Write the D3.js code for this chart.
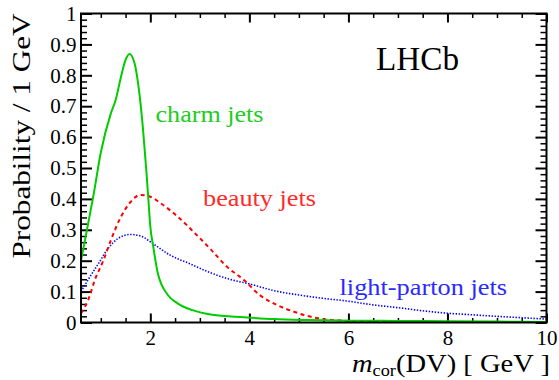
<!DOCTYPE html>
<html><head><meta charset="utf-8">
<script src="https://cdn.jsdelivr.net/npm/d3@7"></script>
<style>body{margin:0;background:#fff}svg{display:block}</style>
</head><body>
<script>
// ---- data ----
const charmX = [0.6, 0.72, 0.85, 1.0, 1.2, 1.3, 1.4, 1.5, 1.58, 1.68, 1.78, 1.85, 1.92, 1.96, 2.0, 2.06, 2.15, 2.35, 2.55, 2.85, 3.25, 3.9, 4.5, 5.2, 6, 7, 8, 9, 10];
const charmY = [0.20, 0.30, 0.41, 0.55, 0.675, 0.72, 0.79, 0.85, 0.869, 0.84, 0.74, 0.63, 0.49, 0.40, 0.31, 0.245, 0.16, 0.09, 0.062, 0.04, 0.025, 0.017, 0.011, 0.008, 0.006, 0.005, 0.004, 0.003, 0.002];
const beautyX = [0.6, 0.75, 0.88, 1.05, 1.2, 1.4, 1.6, 1.8, 2.0, 2.2, 2.55, 2.9, 3.2, 3.55, 3.9, 4.2, 4.55, 4.9, 5.2, 5.55, 5.9, 6.5, 7, 8, 10];
const beautyY = [0.03, 0.075, 0.138, 0.2, 0.265, 0.34, 0.39, 0.413, 0.407, 0.387, 0.343, 0.289, 0.24, 0.18, 0.136, 0.09, 0.057, 0.035, 0.02, 0.01, 0.006, 0.003, 0.002, 0.001, 0.001];
const lightX = [0.6, 0.75, 0.95, 1.15, 1.35, 1.6, 1.8, 2.1, 2.4, 2.8, 3.2, 3.6, 4.0, 4.5, 5.0, 5.5, 6.0, 6.5, 7.0, 7.5, 8.0, 8.5, 9.0, 9.5, 10];
const lightY = [0.10, 0.14, 0.19, 0.24, 0.272, 0.285, 0.28, 0.25, 0.218, 0.19, 0.162, 0.14, 0.125, 0.103, 0.089, 0.078, 0.069, 0.057, 0.048, 0.038, 0.030, 0.025, 0.020, 0.0155, 0.011];
const xMajorTicks = [2, 4, 6, 8, 10];
const xTickLabels = ["2", "4", "6", "8", "10"];
const yMajorTicks = [0, 0.1, 0.2, 0.3, 0.4, 0.5, 0.6, 0.7, 0.8, 0.9, 1];
const yTickLabels = ["0", "0.1", "0.2", "0.3", "0.4", "0.5", "0.6", "0.7", "0.8", "0.9", "1"];
const seriesNames = ["charm jets", "beauty jets", "light-parton jets"];

// ---- layout ----
const FONT = "'Liberation Serif', 'Times New Roman', Times, 'DejaVu Serif', serif";
const W = 559, H = 380;
const L = 81, R = 546.5, T = 13.5, B = 322.5;
const svg = d3.select("body").append("svg").attr("width", W).attr("height", H)
  .style("font-family", FONT);
const x = d3.scaleLinear().domain([0.6, 10]).range([L, R]);
const y = d3.scaleLinear().domain([0, 1]).range([B, T]);

const xMinor = d3.range(1, 10.01, 0.5).filter(v => xMajorTicks.indexOf(v) < 0);
const yMinor = d3.range(0, 50).map(i => +(i * 0.02).toFixed(2)).filter(v => Math.round(v * 100) % 10 !== 0);

function styleAxis(g) {
  g.select(".domain").remove();
  g.attr("font-family", null).style("font-family", FONT);
  g.selectAll("line").attr("stroke", "#000");
}
// minor ticks
svg.append("g").attr("transform", `translate(0,${B})`)
  .call(d3.axisBottom(x).tickValues(xMinor).tickSize(-4.5).tickFormat(""))
  .call(styleAxis).selectAll("line").attr("stroke-width", 1.5);
svg.append("g").attr("transform", `translate(0,${T})`)
  .call(d3.axisTop(x).tickValues(xMinor).tickSize(-4.5).tickFormat(""))
  .call(styleAxis).selectAll("line").attr("stroke-width", 1.5);
svg.append("g").attr("transform", `translate(${L},0)`)
  .call(d3.axisLeft(y).tickValues(yMinor).tickSize(-6).tickFormat(""))
  .call(styleAxis).selectAll("line").attr("stroke-width", 1.5);
svg.append("g").attr("transform", `translate(${R},0)`)
  .call(d3.axisRight(y).tickValues(yMinor).tickSize(-6).tickFormat(""))
  .call(styleAxis).selectAll("line").attr("stroke-width", 1.5);
// major ticks
const gx = svg.append("g").attr("transform", `translate(0,${B})`)
  .call(d3.axisBottom(x).tickValues(xMajorTicks).tickSize(-9).tickPadding(7.3)
    .tickFormat((d, i) => xTickLabels[i]))
  .call(styleAxis);
gx.selectAll("line").attr("stroke-width", 2);
gx.selectAll("text").attr("font-size", 21).attr("fill", "#000").style("font-family", FONT);
svg.append("g").attr("transform", `translate(0,${T})`)
  .call(d3.axisTop(x).tickValues(xMajorTicks).tickSize(-9).tickFormat(""))
  .call(styleAxis).selectAll("line").attr("stroke-width", 2);
const gy = svg.append("g").attr("transform", `translate(${L},0)`)
  .call(d3.axisLeft(y).tickValues(yMajorTicks).tickSize(-11).tickPadding(4.5)
    .tickFormat((d, i) => yTickLabels[i]))
  .call(styleAxis);
gy.selectAll("line").attr("stroke-width", 2);
gy.selectAll("text").attr("font-size", 21).attr("fill", "#000").style("font-family", FONT);
svg.append("g").attr("transform", `translate(${R},0)`)
  .call(d3.axisRight(y).tickValues(yMajorTicks).tickSize(-11).tickFormat(""))
  .call(styleAxis).selectAll("line").attr("stroke-width", 2);

// curves
svg.append("clipPath").attr("id", "clip").append("rect")
  .attr("x", L).attr("y", T).attr("width", R - L).attr("height", B - T);
const line = d3.line().x(d => x(d[0])).y(d => y(d[1])).curve(d3.curveMonotoneX);
const curves = svg.append("g").attr("clip-path", "url(#clip)");
curves.append("path").datum(lightX.map((v, i) => [v, lightY[i]]))
  .attr("d", line).attr("fill", "none").attr("stroke", "#0000ff")
  .attr("stroke-width", 1.6).attr("stroke-dasharray", "1.4,1.6");
curves.append("path").datum(beautyX.map((v, i) => [v, beautyY[i]]))
  .attr("d", line).attr("fill", "none").attr("stroke", "#ff0000")
  .attr("stroke-width", 2).attr("stroke-dasharray", "4,3.5");
curves.append("path").datum(charmX.map((v, i) => [v, charmY[i]]))
  .attr("d", line).attr("fill", "none").attr("stroke", "#00cc00")
  .attr("stroke-width", 2);

// frame
svg.append("rect").attr("x", L).attr("y", T).attr("width", R - L).attr("height", B - T)
  .attr("fill", "none").attr("stroke", "#000").attr("stroke-width", 2);

function label(xp, yp, size, color, len, txt) {
  return svg.append("text").attr("x", xp).attr("y", yp).attr("font-size", size)
    .attr("fill", color).attr("textLength", len).attr("lengthAdjust", "spacingAndGlyphs")
    .style("font-family", FONT).text(txt);
}
label(155.5, 122, 23, "#22cc22", 108, seriesNames[0]);
label(203, 206, 23, "#ff2a2a", 113, seriesNames[1]);
label(339.5, 295, 23, "#2a2aff", 167.5, seriesNames[2]);
label(376, 69.5, 34, "#000", 83, "LHCb");

// y title
svg.append("text").attr("transform", "translate(30,13.5) rotate(-90)")
  .attr("text-anchor", "end").attr("font-size", 26).attr("fill", "#000")
  .attr("textLength", 245).attr("lengthAdjust", "spacingAndGlyphs")
  .style("font-family", FONT)
  .text("Probability / 1 GeV");

// x title
const xt = svg.append("text").attr("x", 550).attr("y", 372).attr("text-anchor", "end")
  .attr("font-size", 25).attr("fill", "#000").style("font-family", FONT)
  .attr("textLength", 198).attr("lengthAdjust", "spacingAndGlyphs");
xt.append("tspan").attr("font-style", "italic").text("m");
xt.append("tspan").attr("font-size", 16).attr("dy", 4).text("cor");
xt.append("tspan").attr("dy", -4).text("(DV) [ GeV ]");
</script>
</body></html>
